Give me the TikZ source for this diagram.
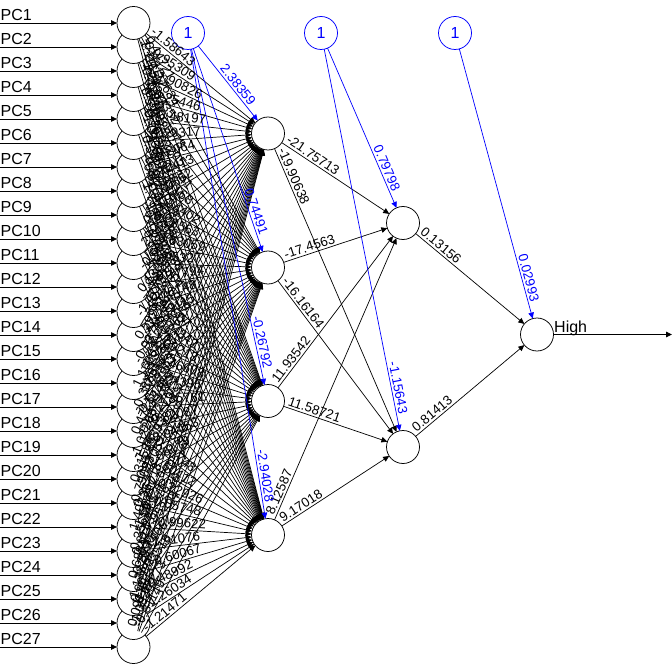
\documentclass[tikz,border=0pt]{standalone}
\usepackage{fontspec}
\setmainfont{Liberation Sans}
\usetikzlibrary{arrows.meta}
\tikzset{
  neuron/.style={circle,draw=black,fill=white,line width=0.75pt,minimum size=33pt,inner sep=0pt,outer sep=0pt},
  biasnode/.style={neuron,draw=blue,text=blue,font=\fontsize{16}{16}\selectfont},
  arrtip/.style={-{Triangle[length=6pt,width=5.5pt]}},
  conn/.style={arrtip,line width=0.7pt,draw=black},
  bconn/.style={arrtip,line width=0.7pt,draw=blue},
  wlab/.style={pos=0,sloped,anchor=south west,inner xsep=3pt,inner ysep=2pt,font=\fontsize{13.3}{13.3}\selectfont,text=black},
  blab/.style={pos=1,sloped,anchor=south east,inner xsep=16pt,inner ysep=2pt,font=\fontsize{13.3}{13.3}\selectfont,text=blue},
  iolab/.style={font=\fontsize{16}{16}\selectfont,inner sep=0pt},
}
\newcommand\inlabels[2]{%
  \foreach \w [count=\i] in {#2} {
    \path (i\i) -- (h#1) node[wlab] {\w};
  }}
\begin{document}
\begin{tikzpicture}[x=1pt,y=-1pt]
\useasboundingbox (0,0) rectangle (672,671);
% input neurons (drawn bottom first, so upper circles lie on top)
\foreach \i in {27,26,...,1} {
  \pgfmathsetmacro\yy{23+24*(\i-1)}
  \node[neuron] (i\i) at (133.5,\yy) {};
}
% hidden layers and output
\node[neuron] (h1) at (268,133.5) {};
\node[neuron] (h2) at (268,267.5) {};
\node[neuron] (h3) at (268,401) {};
\node[neuron] (h4) at (268,535) {};
\node[neuron] (k1) at (403,223) {};
\node[neuron] (k2) at (403,447) {};
\node[neuron] (o) at (537,334.5) {};
% bias neurons
\node[biasnode] (b1) at (188,33) {1};
\node[biasnode] (b2) at (321,33) {1};
\node[biasnode] (b3) at (455,33) {1};
% input arrows and names
\foreach \i in {1,...,27} {
  \pgfmathsetmacro\yy{23+24*(\i-1)}
  \coordinate (s\i) at (0,\yy);
  \draw[arrtip,line width=0.85pt] (s\i) -- (i\i);
  \node[iolab,anchor=base west] (t\i) at (0.5,\yy-2.5) {PC\i};
}
% input to hidden connections
\foreach \i in {1,...,27} {
  \foreach \j in {1,...,4} {
    \draw[conn] (i\i) -- (h\j);
  }
}
% hidden to hidden connections
\foreach \j in {1,...,4} {
  \foreach \k in {1,2} {
    \draw[conn] (h\j) -- (k\k);
  }
}
\draw[conn] (k1) -- (o);
\draw[conn] (k2) -- (o);
% output
\coordinate (oend) at (672,334.5);
\draw[arrtip,line width=0.85pt] (o) -- (oend);
\node[iolab,anchor=base west] (hi) at (554,332) {High};
% bias connections
\foreach \j in {1,...,4} {\draw[bconn] (b1) -- (h\j);}
\draw[bconn] (b2) -- (k1);
\draw[bconn] (b2) -- (k2);
\draw[bconn] (b3) -- (o);
% input weight labels
\inlabels{1}{-1.58643,0.95309,-1.90826,0.25446,-0.48197,1.29317,-0.2064,0.72413,-1.30562,0.84195,2.01734,-0.66358,0.13029,-1.47752,0.59981,-0.93746,1.16602,-0.38891,0.47215,-1.02268,0.31584,-0.79023,1.40337,-0.25619,0.68842,-1.13376,0.09177}
\inlabels{2}{0.44721,-1.27634,0.83352,-0.51978,1.62205,-0.07341,0.99168,-1.84402,0.28563,-0.63059,1.05327,-0.17794,0.76148,-1.39115,0.21862,1.32651,-0.85537,0.54409,-0.42276,1.18893,-0.97052,0.36718,-1.56624,0.61435,-0.29907,0.90781,-1.08265}
\inlabels{3}{-0.88112,1.24376,-0.35827,0.70154,-1.69043,0.18426,-0.57361,1.47985,-0.12688,0.93304,-1.21939,0.40567,-0.74842,1.09213,-0.46608,0.27395,-1.35761,0.82087,-0.04453,1.56179,-0.66927,0.51836,-0.95204,0.14662,-1.73518,0.62273,-0.31149}
\inlabels{4}{1.11654,-0.42815,0.57736,-1.01392,0.34227,-0.82614,1.73465,-0.19083,0.89522,-1.44276,0.07918,-0.70367,1.28841,-0.55173,0.46209,-1.16839,0.23594,-0.91748,1.50412,-0.22926,0.05748,-0.99622,1.91076,-0.60067,0.48992,-1.26034,-1.21471}
% hidden weight labels
\path (h1) -- (k1) node[wlab] {-21.75713};
\path (h1) -- (k2) node[wlab] {-19.90638};
\path (h2) -- (k1) node[wlab] {-17.4563};
\path (h2) -- (k2) node[wlab] {-16.16164};
\path (h3) -- (k1) node[wlab] {11.93542};
\path (h3) -- (k2) node[wlab] {11.58721};
\path (h4) -- (k1) node[wlab] {8.12587};
\path (h4) -- (k2) node[wlab] {9.17018};
\path (k1) -- (o) node[wlab] {0.13156};
\path (k2) -- (o) node[wlab] {0.81413};
% bias weight labels
\path (b1) -- (h1) node[blab] {2.38359};
\path (b1) -- (h2) node[blab] {0.74491};
\path (b1) -- (h3) node[blab] {-0.26792};
\path (b1) -- (h4) node[blab] {-2.94028};
\path (b2) -- (k1) node[blab] {0.79798};
\path (b2) -- (k2) node[blab] {-1.15643};
\path (b3) -- (o) node[blab] {0.02993};
\end{tikzpicture}
\end{document}
